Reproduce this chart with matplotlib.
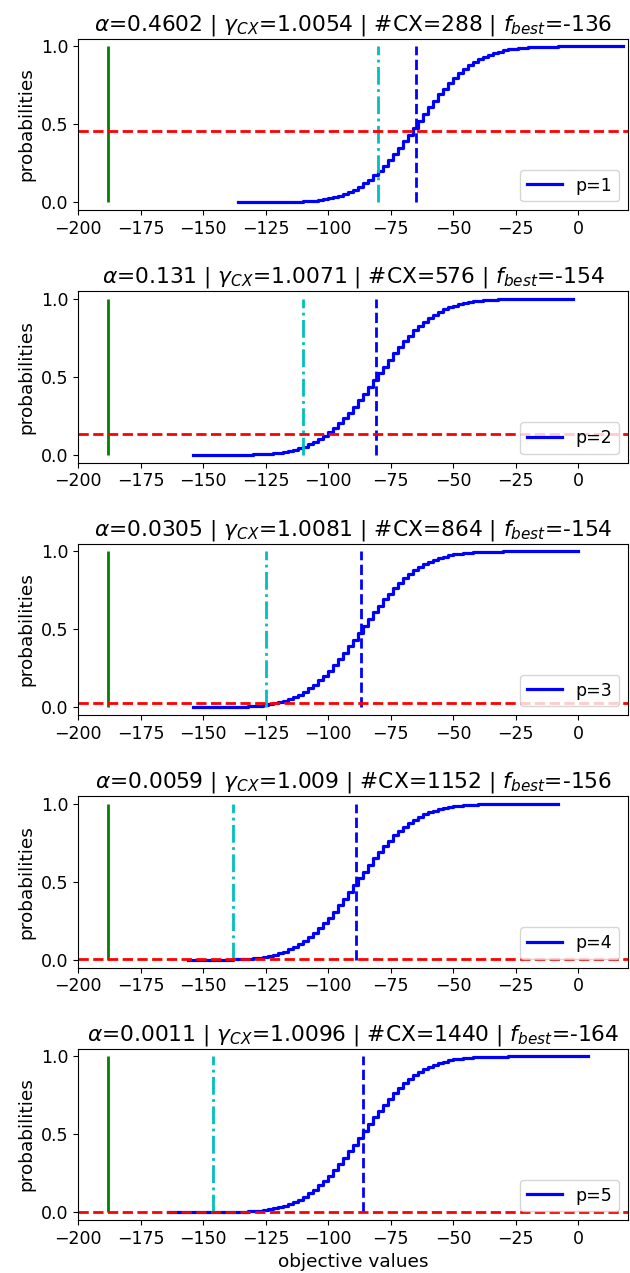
import numpy as np
from matplotlib import pyplot as plt

# objective value grid: each curve starts at f_best and steps by 2
starts = [-136, -154, -154, -156, -164]
step = 2

# cumulative probabilities
cdf_p1 = [0.0, 0.0, 0.0001, 0.0001, 0.0002, 0.0004, 0.0005, 0.0008, 0.0011, 0.0016,
          0.0023, 0.0032, 0.0045, 0.0062, 0.0084, 0.0114, 0.0151, 0.0199, 0.0259, 0.0334,
          0.0425, 0.0536, 0.0668, 0.0824, 0.1007, 0.1217, 0.1456, 0.1725, 0.2023, 0.2351,
          0.2706, 0.3085, 0.3487, 0.3906, 0.4338, 0.4778,
          0.5222, 0.5662, 0.6094, 0.6513, 0.6915, 0.7294, 0.7649, 0.7977, 0.8275, 0.8544,
          0.8783, 0.8993, 0.9176, 0.9332, 0.9464, 0.9575, 0.9666, 0.9741, 0.9801, 0.9849,
          0.9886, 0.9916, 0.9938, 0.9955, 0.9968, 0.9977, 0.9984, 0.9989, 0.9992, 0.9995,
          0.9996, 0.9998, 0.9999, 1.0, 1.0, 1.0, 1.0, 1.0, 1.0, 1.0, 1.0, 1.0]
cdf_p2 = [0.0, 0.0, 0.0, 0.0001, 0.0001, 0.0002, 0.0004, 0.0005, 0.0008, 0.0011, 0.0016,
          0.0023, 0.0032, 0.0045, 0.0062, 0.0084, 0.0114, 0.0151, 0.0199, 0.0259, 0.0334,
          0.0425, 0.0536, 0.0668, 0.0824, 0.1007, 0.1217, 0.1456, 0.1725, 0.2023, 0.2351,
          0.2706, 0.3085, 0.3487, 0.3906, 0.4338, 0.4778,
          0.5222, 0.5662, 0.6094, 0.6513, 0.6915, 0.7294, 0.7649, 0.7977, 0.8275, 0.8544,
          0.8783, 0.8993, 0.9176, 0.9332, 0.9464, 0.9575, 0.9666, 0.9741, 0.9801, 0.9849,
          0.9886, 0.9916, 0.9938, 0.9955, 0.9968, 0.9977, 0.9984, 0.9989, 0.9992, 0.9995,
          0.9996, 0.9998, 0.9999, 1.0, 1.0, 1.0, 1.0, 1.0, 1.0, 1.0]
cdf_p3 = [0.0001, 0.0001, 0.0002, 0.0004, 0.0005, 0.0008, 0.0011, 0.0016,
          0.0023, 0.0032, 0.0045, 0.0062, 0.0084, 0.0114, 0.0151, 0.0199, 0.0259, 0.0334,
          0.0425, 0.0536, 0.0668, 0.0824, 0.1007, 0.1217, 0.1456, 0.1725, 0.2023, 0.2351,
          0.2706, 0.3085, 0.3487, 0.3906, 0.4338, 0.4778,
          0.5222, 0.5662, 0.6094, 0.6513, 0.6915, 0.7294, 0.7649, 0.7977, 0.8275, 0.8544,
          0.8783, 0.8993, 0.9176, 0.9332, 0.9464, 0.9575, 0.9666, 0.9741, 0.9801, 0.9849,
          0.9886, 0.9916, 0.9938, 0.9955, 0.9968, 0.9977, 0.9984, 0.9989, 0.9992, 0.9995,
          0.9996, 0.9998, 0.9999, 1.0, 1.0, 1.0, 1.0, 1.0, 1.0, 1.0, 1.0, 1.0, 1.0, 1.0]
cdf_p4 = [0.0001, 0.0001, 0.0002, 0.0004, 0.0005, 0.0008, 0.0011, 0.0016,
          0.0023, 0.0032, 0.0045, 0.0062, 0.0084, 0.0114, 0.0151, 0.0199, 0.0259, 0.0334,
          0.0425, 0.0536, 0.0668, 0.0824, 0.1007, 0.1217, 0.1456, 0.1725, 0.2023, 0.2351,
          0.2706, 0.3085, 0.3487, 0.3906, 0.4338, 0.4778,
          0.5222, 0.5662, 0.6094, 0.6513, 0.6915, 0.7294, 0.7649, 0.7977, 0.8275, 0.8544,
          0.8783, 0.8993, 0.9176, 0.9332, 0.9464, 0.9575, 0.9666, 0.9741, 0.9801, 0.9849,
          0.9886, 0.9916, 0.9938, 0.9955, 0.9968, 0.9977, 0.9984, 0.9989, 0.9992, 0.9995,
          0.9996, 0.9998, 0.9999, 1.0, 1.0, 1.0, 1.0, 1.0, 1.0, 1.0, 1.0]
cdf_p5 = [0.0, 0.0, 0.0, 0.0, 0.0, 0.0001, 0.0001, 0.0002, 0.0004, 0.0005, 0.0008, 0.0011, 0.0016,
          0.0023, 0.0032, 0.0045, 0.0062, 0.0084, 0.0114, 0.0151, 0.0199, 0.0259, 0.0334,
          0.0425, 0.0536, 0.0668, 0.0824, 0.1007, 0.1217, 0.1456, 0.1725, 0.2023, 0.2351,
          0.2706, 0.3085, 0.3487, 0.3906, 0.4338, 0.4778,
          0.5222, 0.5662, 0.6094, 0.6513, 0.6915, 0.7294, 0.7649, 0.7977, 0.8275, 0.8544,
          0.8783, 0.8993, 0.9176, 0.9332, 0.9464, 0.9575, 0.9666, 0.9741, 0.9801, 0.9849,
          0.9886, 0.9916, 0.9938, 0.9955, 0.9968, 0.9977, 0.9984, 0.9989, 0.9992, 0.9995,
          0.9996, 0.9998, 0.9999, 1.0, 1.0, 1.0, 1.0, 1.0, 1.0, 1.0, 1.0, 1.0, 1.0, 1.0,
          1.0, 1.0]
cdfs = [cdf_p1, cdf_p2, cdf_p3, cdf_p4, cdf_p5]

alphas = ["0.4602", "0.131", "0.0305", "0.0059", "0.0011"]
gammas = ["1.0054", "1.0071", "1.0081", "1.009", "1.0096"]
n_cx = [288, 576, 864, 1152, 1440]
f_best = [-136, -154, -154, -156, -164]
cvar_values = [-80, -110, -125, -138, -146]
mean_values = [-65, -81, -87, -89, -86]
optimum = -188

plt.rcParams['font.size'] = 12.5

fig, axes = plt.subplots(5, 1, figsize=(6.3, 12.73), dpi=100)
fig.subplots_adjust(left=0.124, right=0.997, top=0.9697, bottom=0.0415,
                    hspace=0.4715)

for i, ax in enumerate(axes):
    probs = cdfs[i]
    values = starts[i] + step * np.arange(len(probs))
    ax.step(values, probs, where='post', color='b', lw=2.3, label=f"p={i + 1}")
    ax.vlines(optimum, 0, 1, colors='g', lw=2)
    ax.vlines(cvar_values[i], 0, 1, colors='c', linestyles='-.', lw=2)
    ax.vlines(mean_values[i], 0, 1, colors='b', linestyles='--', lw=2)
    ax.axhline(float(alphas[i]), color='r', ls='--', lw=2)
    ax.set_xlim(-200, 20)
    ax.set_ylim(-0.05, 1.05)
    ax.set_xticks([-200, -175, -150, -125, -100, -75, -50, -25, 0])
    ax.set_yticks([0.0, 0.5, 1.0])
    ax.set_ylabel("probabilities", fontsize=13.3)
    ax.set_title(rf"$\alpha$={alphas[i]} | $\gamma_{{CX}}$={gammas[i]} | "
                 rf"#CX={n_cx[i]} | $f_{{best}}$={f_best[i]}", fontsize=15.7)
    ax.legend(loc='lower right')

axes[-1].set_xlabel("objective values", fontsize=13.3)

fig.savefig("out.png", dpi=100)
